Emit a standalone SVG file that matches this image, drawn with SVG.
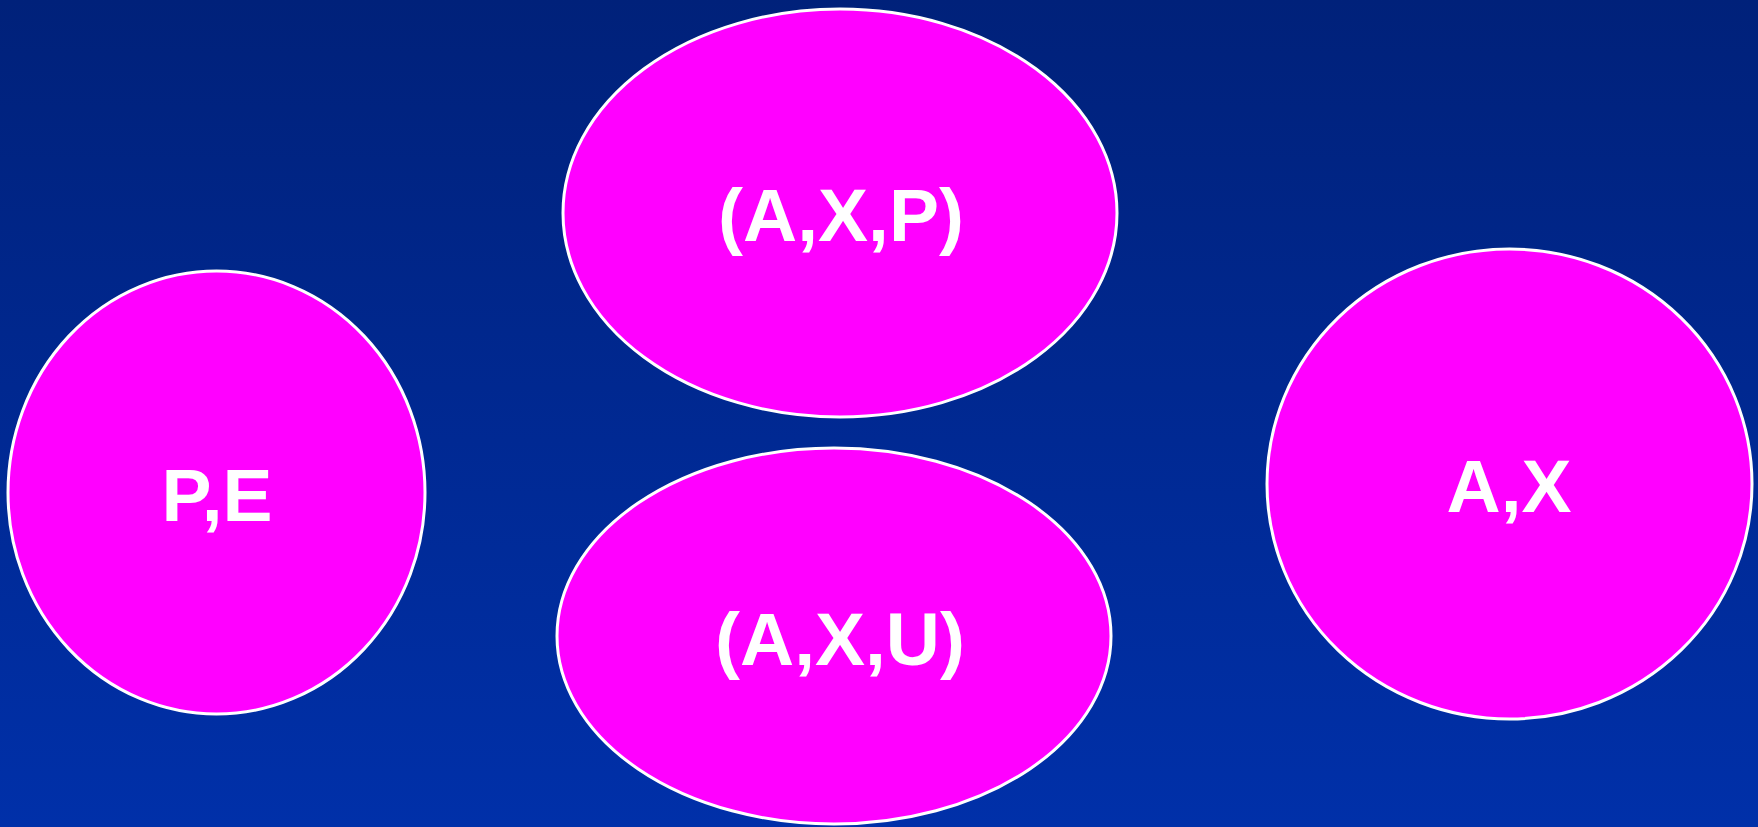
<svg xmlns="http://www.w3.org/2000/svg" width="1758" height="827" viewBox="0 0 1758 827">
  <defs>
    <linearGradient id="bg" x1="0" y1="0" x2="0" y2="1">
      <stop offset="0" stop-color="#00217A"/>
      <stop offset="1" stop-color="#0030A9"/>
    </linearGradient>
  </defs>
  <style>
    .node ellipse { fill: #FF00FF; stroke: #FFFFFF; stroke-width: 3; }
    .node text { fill: #FFFFFF; font-family: "Liberation Sans", Arial, sans-serif; font-weight: bold; font-size: 75px; text-anchor: middle; }
  </style>
  <rect x="0" y="0" width="1758" height="827" fill="url(#bg)"/>
  <g id="connectors"></g>
  <g id="node-axp" class="node">
    <ellipse cx="840" cy="213" rx="277" ry="204"/>
    <text x="841" y="241">(A,X,P)</text>
  </g>
  <g id="node-pe" class="node">
    <ellipse cx="216.5" cy="492.5" rx="208.5" ry="221.5"/>
    <text x="217" y="521">P,E</text>
  </g>
  <g id="node-axu" class="node">
    <ellipse cx="834" cy="636" rx="277" ry="188"/>
    <text x="840" y="665">(A,X,U)</text>
  </g>
  <g id="node-ax" class="node">
    <ellipse cx="1509.5" cy="484" rx="242.5" ry="235"/>
    <text x="1509" y="512">A,X</text>
  </g>
</svg>
